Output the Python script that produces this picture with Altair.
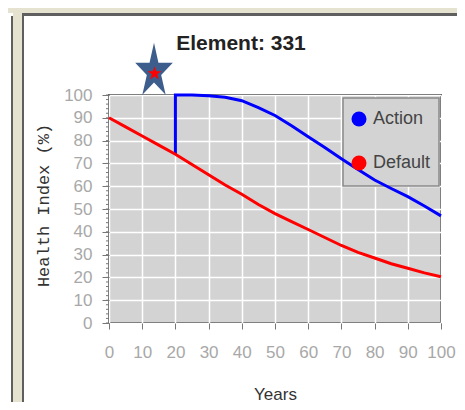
import altair as alt
import pandas as pd

# ---------------- data ----------------
title_text = "Element: 331"
series_names = ["Action", "Default"]
series_colors = ["#0000ff", "#ff0000"]

default_years = [0, 5, 10, 15, 20, 25, 30, 35, 40, 45, 50, 55, 60, 65, 70, 75, 80, 85, 90, 95, 100]
default_values = [90, 86, 82, 78, 74, 69.5, 65, 60.5, 56.5, 52, 48, 44.5, 41, 37.5, 34, 31, 28.5, 26, 24, 22, 20.3]

action_years = [20, 20, 25, 30, 35, 40, 45, 50, 55, 60, 65, 70, 75, 80, 85, 90, 95, 100]
action_values = [74, 100, 100, 99.7, 99, 97.5, 94.5, 91, 86.5, 81.7, 77, 72, 67.3, 62.7, 59, 55.4, 51.3, 47]

x_ticks = [0, 10, 20, 30, 40, 50, 60, 70, 80, 90, 100]
y_ticks = [0, 10, 20, 30, 40, 50, 60, 70, 80, 90, 100]
y_minor = list(range(0, 101, 2))

x_title = "Years"
y_title = "Health Index (%)"

# ---------------- tables ----------------
rows = []
for i, (yr, v) in enumerate(zip(action_years, action_values)):
    rows.append({"Years": yr, "Value": v, "Series": series_names[0], "order": i})
for i, (yr, v) in enumerate(zip(default_years, default_values)):
    rows.append({"Years": yr, "Value": v, "Series": series_names[1], "order": i})
df = pd.DataFrame(rows)
minor_df = pd.DataFrame({"v": y_minor})
one = pd.DataFrame({"a": [0]})

FONT = "Liberation Sans, Arial, sans-serif"
W, H = 332, 228

xs = alt.Scale(domain=[0, 100], nice=False)
ys = alt.Scale(domain=[0, 100], nice=False)
cs = alt.Scale(domain=series_names, range=series_colors)

# ---------------- frame decorations (screenshot surround) ----------------
BEIGE = "#e5e3d0"
DARK = "#5f5f5f"


def box(x, x2, y, y2, color):
    return alt.Chart(one).mark_rect(color=color, strokeWidth=0).encode(
        x=alt.value(x), x2=alt.value(x2), y=alt.value(y), y2=alt.value(y2)
    )


frame = [
    box(-101, 350, -87, -82, BEIGE),
    box(-87, 350, -82, -79, DARK),
    box(-96, -87, -87, 310, BEIGE),
    box(-98, -96, -79, 310, DARK),
    box(-87, -85, -82, 310, DARK),
]

# legend background (under the lines, over the grid)
legend_bg = alt.Chart(one).mark_rect(fill="#d3d3d3", stroke="#8a8a8a", strokeWidth=1.5).encode(
    x=alt.value(234), x2=alt.value(330), y=alt.value(3), y2=alt.value(91)
)

x_axis = alt.Axis(values=x_ticks, title=x_title, titleY=76, titleBaseline="alphabetic",
                  labelOverlap=False, labelFlush=False)
y_axis = alt.Axis(values=y_ticks, title=y_title, titleX=-61, titleY=110,
                  titleAngle=270, titleAlign="center", titleBaseline="alphabetic",
                  labelOverlap=False, labelFlush=False)

lines = alt.Chart(df).mark_line(strokeWidth=3).encode(
    x=alt.X("Years:Q", scale=xs, axis=x_axis),
    y=alt.Y("Value:Q", scale=ys, axis=y_axis),
    color=alt.Color("Series:N", scale=cs, legend=None),
    detail="Series:N",
    order="order:Q",
)

legend_pts = alt.Chart(df).mark_point(filled=True, opacity=0, size=0).encode(
    x=alt.X("Years:Q", scale=xs, axis=x_axis),
    y=alt.Y("Value:Q", scale=ys, axis=y_axis),
    color=alt.Color("Series:N", scale=cs,
                    legend=alt.Legend(
                        title=None, orient="none", legendX=241, legendY=15,
                        symbolType="circle", symbolSize=225, symbolOpacity=1,
                        symbolStrokeWidth=0, labelOffset=5, rowPadding=26)),
)

minor = alt.Chart(minor_df).mark_rule(color="#777", strokeWidth=1).encode(
    y=alt.Y("v:Q", scale=ys, axis=y_axis), x=alt.value(-3), x2=alt.value(0)
)

title = alt.Chart(one).mark_text(
    text=title_text, font=FONT, fontSize=21, fontWeight="bold",
    color="#222", align="center", baseline="alphabetic"
).encode(x=alt.value(132), y=alt.value(-45))

STAR_TALL = ("M0,-1L0.155,-0.309L0.656,-0.309L0.25,0.118L0.406,0.809L0,0.382"
             "L-0.406,0.809L-0.25,0.118L-0.656,-0.309L-0.155,-0.309Z")
STAR = ("M0,-1L0.2245,-0.309L0.951,-0.309L0.363,0.118L0.588,0.809L0,0.382"
        "L-0.588,0.809L-0.363,0.118L-0.951,-0.309L-0.2245,-0.309Z")

star_big = alt.Chart(one).mark_point(
    shape=STAR_TALL, filled=True, fill="#3d5d8c", strokeWidth=0, opacity=1, size=3295
).encode(x=alt.value(45), y=alt.value(-23.5))
star_small = alt.Chart(one).mark_point(
    shape=STAR, filled=True, fill="#ff0000", strokeWidth=0, opacity=1, size=215
).encode(x=alt.value(45.5), y=alt.value(-21.5))

chart = alt.layer(
    *frame, legend_bg, lines, legend_pts, minor, title, star_big, star_small
).resolve_legend(
    color="independent"
).properties(
    width=W, height=H,
    autosize=alt.AutoSizeParams(type="none"),
    padding={"left": 101, "top": 87, "right": 16, "bottom": 79},
    background="white",
).configure_view(
    fill="#d3d3d3", stroke="#555555", strokeWidth=2
).configure_axis(
    domain=False, grid=True, gridColor="#ffffff", gridWidth=1.5, gridOpacity=1,
    tickColor="#777777", tickWidth=1,
    labelFont=FONT, labelColor="#a8a8a8",
    titleColor="#333333", titleFontWeight="normal",
).configure_axisX(
    tickSize=6, labelFontSize=17, labelPadding=15,
    titleFont=FONT, titleFontSize=17,
).configure_axisY(
    tickSize=7, labelFontSize=17, labelPadding=10,
    titleFont="Liberation Mono, DejaVu Sans Mono", titleFontSize=17,
).configure_legend(
    labelFont=FONT, labelFontSize=18, labelColor="#444444",
)

chart.save("out.html", embed_options={"renderer": "svg", "actions": False})
